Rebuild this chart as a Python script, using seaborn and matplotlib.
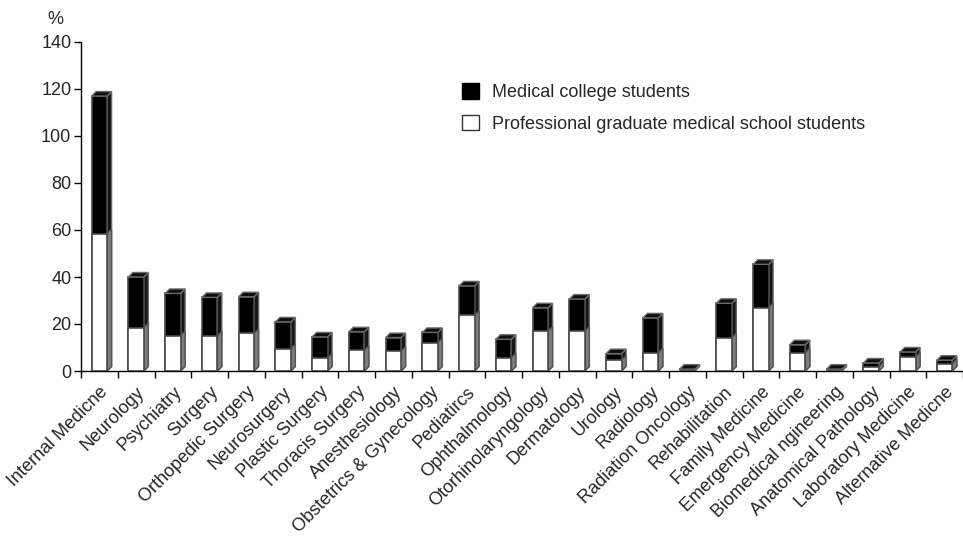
import matplotlib
matplotlib.use("Agg")
import matplotlib.pyplot as plt
from matplotlib.patches import Patch, Polygon
import numpy as np
import pandas as pd
import seaborn as sns

specialties = [
    "Internal Medicne", "Neurology", "Psychiatry", "Surgery", "Orthopedic Surgery",
    "Neurosurgery", "Plastic Surgery", "Thoracis Surgery", "Anesthesiology",
    "Obstetrics & Gynecology", "Pediatircs", "Ophthalmology", "Otorhinolaryngology",
    "Dermatology", "Urology", "Radiology", "Radiation Oncology", "Rehabilitation",
    "Family Medicine", "Emergency Medicine", "Biomedical ngineering",
    "Anatomical Pathology", "Laboratory Medicine", "Alternative Medicne",
]
# Professional graduate medical school students (lower, white segment)
graduate = [58.5, 18.5, 15.0, 15.0, 16.0, 9.5, 5.5, 8.8, 8.5, 12.0, 23.8, 5.6,
            17.0, 17.0, 4.6, 7.8, 0.0, 14.2, 27.0, 7.8, 0.0, 1.8, 5.9, 3.1]
# Medical college students (upper, black segment)
college = [58.5, 21.5, 18.0, 16.3, 15.6, 11.4, 9.0, 7.9, 5.7, 4.4, 12.4, 7.9,
           9.9, 13.6, 2.8, 14.8, 0.8, 14.6, 18.4, 3.4, 0.8, 1.6, 2.2, 1.5]
y_ticks = [0, 20, 40, 60, 80, 100, 120, 140]

df = pd.DataFrame({"specialty": specialties,
                   "graduate": graduate,
                   "college": college})
df["total"] = df["graduate"] + df["college"]

sns.set_theme(style="white")
plt.rcParams["font.family"] = ["Liberation Sans", "DejaVu Sans"]

fig = plt.figure(figsize=(9.63, 5.40), dpi=100)
ax = fig.add_axes([81 / 963, 169 / 540, 882 / 963, 329 / 540])

bar_w = 0.42
edge = "#4a4a4a"
sns.barplot(data=df, x="specialty", y="total", color="black", saturation=1,
            width=bar_w, edgecolor=edge, linewidth=1.2, ax=ax, zorder=3)
sns.barplot(data=df, x="specialty", y="graduate", color="white", saturation=1,
            width=bar_w, edgecolor=edge, linewidth=1.2, ax=ax, zorder=5)

ax.set_xlim(-0.5, len(specialties) - 0.5)
ax.set_ylim(0, 140)

# depth of the pseudo-3D faces, given in pixels and converted to data units
px_per_x = ax.bbox.width / (len(specialties))
px_per_y = ax.bbox.height / 140
dx = 4.5 / px_per_x
dy = 4.5 / px_per_y

n = len(specialties)
patches = list(ax.patches)
black_bars = patches[:n]
white_bars = patches[n:2 * n]

for p in black_bars:
    x, y, w, h = p.get_x(), p.get_y(), p.get_width(), p.get_height()
    side = Polygon([(x + w, y), (x + w + dx, y + dy), (x + w + dx, y + h + dy), (x + w, y + h)],
                   closed=True, facecolor="#161616", edgecolor="#6a6a6a", lw=1.0, zorder=2)
    top = Polygon([(x, y + h), (x + dx, y + h + dy), (x + w + dx, y + h + dy), (x + w, y + h)],
                  closed=True, facecolor="#101010", edgecolor="#6a6a6a", lw=1.0, zorder=4)
    ax.add_patch(side)
    ax.add_patch(top)

for p in white_bars:
    x, y, w, h = p.get_x(), p.get_y(), p.get_width(), p.get_height()
    if h <= 0:
        continue
    side = Polygon([(x + w, y), (x + w + dx, y + dy), (x + w + dx, y + h + dy), (x + w, y + h)],
                   closed=True, facecolor="#7c7c7c", edgecolor="#555555", lw=1.0, zorder=4.5)
    ax.add_patch(side)

# axes styling
for s in ["top", "right"]:
    ax.spines[s].set_visible(False)
for s in ["left", "bottom"]:
    ax.spines[s].set_color("black")
    ax.spines[s].set_linewidth(1.0)
ax.set_xlabel("")
ax.set_ylabel("")
ax.set_yticks(y_ticks)
ax.set_yticklabels([str(v) for v in y_ticks], fontsize=13)
ax.tick_params(axis="y", direction="out", length=5, width=1, color="black", pad=2, left=True)

ax.set_xticks(np.arange(n))
ax.set_xticklabels(specialties, rotation=45, ha="right", rotation_mode="anchor", fontsize=13)
ax.tick_params(axis="x", which="major", length=0, pad=9, bottom=True)
ax.set_xticks(np.arange(n + 1) - 0.5, minor=True)
ax.tick_params(axis="x", which="minor", direction="out", length=5, width=1, color="black", bottom=True)
ax.grid(False)

fig.text(55 / 963, 1 - 20 / 540, "%", fontsize=13, ha="center", va="center")

handles = [Patch(facecolor="black", edgecolor="black", lw=1.0),
           Patch(facecolor="white", edgecolor="#333333", lw=1.0)]
fig.legend(handles, ["Medical college students",
                     "Professional graduate medical school students"],
           loc="upper left", bbox_to_anchor=(462 / 963, 1 - 83 / 540),
           frameon=False, fontsize=13, handlelength=0.95, handleheight=0.95,
           handletextpad=0.7, labelspacing=0.75, borderpad=0, borderaxespad=0)

fig.savefig("out.png", dpi=100, facecolor="white")
